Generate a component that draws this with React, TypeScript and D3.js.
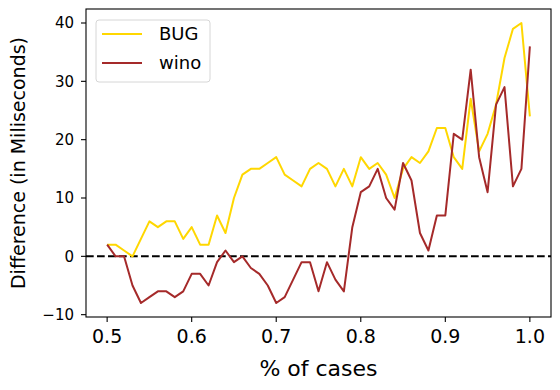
import React from "react";
import * as d3 from "d3";

// % of cases, 0.50 .. 1.00 in steps of 0.01
const cases = d3.range(51).map((i) => +(0.5 + i * 0.01).toFixed(2));

const bugDiff = [
  2, 2, 1, 0, 3, 6, 5, 6, 6, 3, 5, 2, 2, 7, 4, 10, 14, 15, 15, 16, 17, 14, 13,
  12, 15, 16, 15, 12, 15, 12, 17, 15, 16, 14, 10, 15, 17, 16, 18, 22, 22, 17,
  15, 27, 18, 21, 26, 34, 39, 40, 24,
];

const winoDiff = [
  2, 0, 0, -5, -8, -7, -6, -6, -7, -6, -3, -3, -5, -1, 1, -1, 0, -2, -3, -5, -8,
  -7, -4, -1, -1, -6, -1, -4, -6, 5, 11, 12, 15, 10, 8, 16, 13, 4, 1, 7, 7, 21,
  20, 32, 17, 11, 26, 29, 12, 15, 36,
];

const seriesNames = ["BUG", "wino"];
const xTicks = [0.5, 0.6, 0.7, 0.8, 0.9, 1.0];
const yTicks = [-10, 0, 10, 20, 30, 40];

const colors = ["#ffd700", "#a52a2a"];
const font = "DejaVu Sans, sans-serif";

const App = () => {
  const width = 560;
  const height = 390;
  const margin = { top: 9, right: 9, bottom: 73, left: 86 };
  const innerW = width - margin.left - margin.right;
  const innerH = height - margin.top - margin.bottom;

  const x = d3.scaleLinear().domain([0.475, 1.025]).range([0, innerW]);
  const y = d3.scaleLinear().domain([-10.4, 42.4]).range([innerH, 0]);

  const line = d3
    .line<number>()
    .x((d, i) => x(cases[i]))
    .y((d) => y(d));

  const allSeries = [bugDiff, winoDiff];

  return (
    <svg
      width={width}
      height={height}
      style={{ position: "absolute", left: 0, top: 0, background: "#fff" }}
      fontFamily={font}
    >
      <g transform={`translate(${margin.left},${margin.top})`}>
        <line
          x1={0}
          x2={innerW}
          y1={y(0)}
          y2={y(0)}
          stroke="#000"
          strokeWidth={2}
          strokeDasharray="7.7,3.3"
        />
        {allSeries.map((s, i) => (
          <path
            key={seriesNames[i]}
            d={line(s) || ""}
            fill="none"
            stroke={colors[i]}
            strokeWidth={2}
            strokeLinejoin="round"
          />
        ))}

        {/* axes frame */}
        <rect
          x={0}
          y={0}
          width={innerW}
          height={innerH}
          fill="none"
          stroke="#000"
          strokeWidth={1.1}
        />

        {xTicks.map((t) => (
          <g key={t} transform={`translate(${x(t)},${innerH})`}>
            <line y1={0} y2={5} stroke="#000" strokeWidth={1.1} />
            <text y={26} textAnchor="middle" fontSize={19} fill="#000">
              {t.toFixed(1)}
            </text>
          </g>
        ))}

        {yTicks.map((t) => (
          <g key={t} transform={`translate(0,${y(t)})`}>
            <line x1={-5} x2={0} stroke="#000" strokeWidth={1.1} />
            <text
              x={-12}
              dy="0.36em"
              textAnchor="end"
              fontSize={15}
              fill="#000"
            >
              {t < 0 ? `\u2212${Math.abs(t)}` : t}
            </text>
          </g>
        ))}

        {/* legend */}
        <g transform="translate(10,11)">
          <rect
            x={0}
            y={0}
            width={114}
            height={62}
            rx={3}
            fill="#fff"
            fillOpacity={0.8}
            stroke="#d6d6d6"
          />
          {seriesNames.map((name, i) => (
            <g key={name} transform={`translate(0,${14 + i * 29})`}>
              <line x1={6} x2={46} stroke={colors[i]} strokeWidth={2} />
              <text x={63} dy="0.36em" fontSize={18} fill="#000">
                {name}
              </text>
            </g>
          ))}
        </g>
      </g>

      <text
        x={margin.left + innerW / 2}
        y={376}
        textAnchor="middle"
        fontSize={22}
        fill="#000"
      >
        % of cases
      </text>
      <text
        transform={`translate(25,${margin.top + innerH / 2}) rotate(-90)`}
        textAnchor="middle"
        fontSize={19}
        fill="#000"
      >
        Difference (in Miliseconds)
      </text>
    </svg>
  );
};

export default App;
